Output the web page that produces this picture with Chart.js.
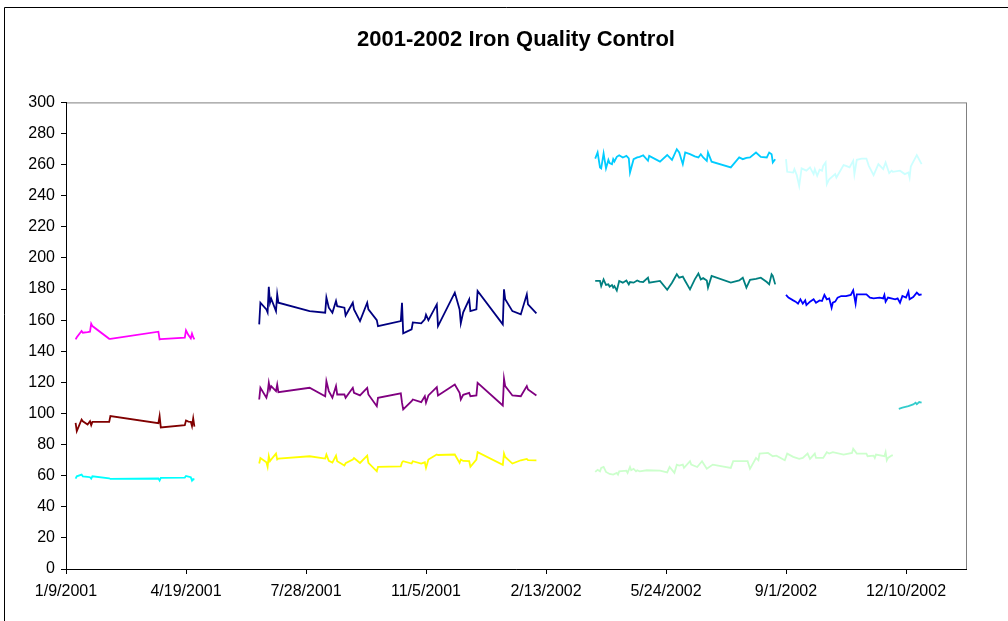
<!DOCTYPE html>
<html>
<head>
<meta charset="utf-8">
<script src="https://cdn.jsdelivr.net/npm/chart.js@4.4.0/dist/chart.umd.min.js"></script>
<style>
  html, body { margin: 0; padding: 0; background: #fff; }
  #wrap { width: 1008px; height: 621px; position: relative; }
</style>
</head>
<body>
<div id="wrap"><canvas id="chart" width="1008" height="621"></canvas></div>
<script>
// x values are Excel date serials (36900 = 1/9/2001)
const xTickLabels = ['1/9/2001', '4/19/2001', '7/28/2001', '11/5/2001', '2/13/2002', '5/24/2002', '9/1/2002', '12/10/2002'];

// early 2001
const earlyDates = [36908, 36909, 36913, 36914, 36918, 36920, 36921, 36922, 36936, 36937,
  36977, 36978, 36979, 36999, 37000, 37002, 37004, 37005, 37006, 37007];
const magentaValues = [147.6, 149.0, 153.0, 151.9, 152.3, 152.6, 157.7, 156.2, 148.0, 148.0,
  152.6, 147.6, 147.8, 148.7, 153.4, 150.4, 148.3, 151.3, 149.0, 147.6];
const darkRedValues = [94.0, 88.6, 96.1, 95.0, 92.9, 95.0, 92.5, 94.6, 94.6, 98.3,
  93.8, 98.3, 91.0, 92.5, 95.5, 94.8, 94.6, 91.8, 96.8, 91.5];
const cyanValues = [58.1, 59.6, 60.7, 59.6, 59.3, 59.0, 58.1, 59.6, 58.3, 57.9,
  58.2, 56.9, 58.6, 58.8, 59.8, 59.4, 59.0, 56.8, 57.8, 57.5];

// mid 2001 - early 2002
const midDates = [37061, 37062, 37067, 37068, 37069, 37070, 37071, 37075, 37076, 37077,
  37103, 37116, 37117, 37119, 37122, 37125, 37126, 37132, 37133, 37139,
  37140, 37145, 37151, 37152, 37159, 37160, 37179, 37180, 37181, 37188,
  37189, 37196, 37199, 37200, 37202, 37209, 37210, 37224, 37228, 37229,
  37231, 37236, 37237, 37242, 37243, 37264, 37265, 37266, 37272, 37279,
  37284, 37285, 37292];
const navyValues = [157.3, 171.2, 166.9, 165.0, 181.5, 171.2, 173.8, 165.8, 176.6, 171.2,
  165.8, 164.8, 174.5, 168.0, 164.8, 172.3, 169.0, 168.0, 163.0, 171.2,
  166.9, 159.4, 171.2, 166.9, 160.0, 156.2, 159.4, 171.2, 151.5, 154.1,
  158.5, 157.9, 160.5, 163.5, 160.0, 170.1, 156.2, 177.7, 166.9, 158.0,
  165.0, 173.4, 165.8, 166.9, 178.7, 157.3, 179.8, 173.4, 165.8, 163.7,
  176.6, 170.1, 164.4];
const purpleValues = [109.0, 116.5, 110.1, 113.3, 119.7, 115.4, 117.6, 114.4, 118.6, 113.7,
  116.5, 111.1, 120.8, 114.4, 110.1, 117.6, 112.2, 112.2, 110.1, 116.5,
  113.3, 111.6, 116.5, 112.2, 104.7, 110.1, 112.9, 106.9, 102.6, 107.9,
  109.0, 107.3, 111.1, 106.9, 111.6, 116.9, 111.6, 118.6, 113.3, 109.0,
  112.0, 113.3, 111.1, 111.6, 119.7, 105.1, 122.3, 117.6, 111.6, 111.1,
  117.6, 115.4, 111.6];
const yellowValues = [67.8, 71.4, 68.6, 65.7, 72.5, 69.3, 70.4, 74.2, 70.4, 71.0,
  72.5, 71.0, 73.6, 69.5, 68.4, 72.9, 69.3, 66.5, 68.0, 70.4,
  71.4, 68.2, 72.9, 68.2, 62.8, 65.7, 66.0, 68.5, 69.3, 67.8,
  69.3, 67.8, 68.6, 65.0, 70.4, 73.6, 73.3, 73.6, 68.2, 70.4,
  69.5, 69.3, 65.7, 70.4, 75.1, 67.0, 74.2, 72.0, 67.8, 69.9,
  70.8, 70.0, 69.9];

// spring / summer 2002
const springDates = [37341, 37343, 37345, 37346, 37348, 37350, 37352, 37353, 37355, 37356,
  37357, 37359, 37361, 37364, 37367, 37369, 37370, 37373, 37376, 37378,
  37381, 37385, 37386, 37395, 37401, 37405, 37409, 37411, 37414, 37416,
  37420, 37424, 37427, 37429, 37431, 37434, 37435, 37438, 37454, 37461,
  37464, 37467, 37470, 37475, 37479, 37484, 37486, 37488, 37489, 37491];
const skyBlueValues = [263.9, 267.8, 258.2, 257.6, 267.2, 257.6, 263.0, 261.0, 260.3, 263.5,
  262.0, 265.0, 266.0, 264.6, 265.6, 264.0, 254.9, 263.5, 264.6, 265.0,
  266.0, 262.5, 265.6, 261.9, 266.2, 263.0, 269.9, 267.8, 260.3, 267.8,
  266.7, 265.3, 264.6, 266.7, 264.6, 262.4, 267.8, 261.9, 258.2, 264.6,
  263.5, 264.3, 264.6, 267.8, 265.0, 264.6, 267.8, 266.7, 261.4, 263.5];
const tealValues = [185.2, 185.2, 185.2, 181.9, 186.2, 182.6, 183.0, 181.5, 182.6, 180.9,
  181.9, 179.0, 185.2, 184.1, 185.5, 183.0, 184.5, 184.1, 185.5, 184.8,
  184.5, 187.3, 184.1, 185.2, 179.5, 184.1, 189.5, 187.3, 188.0, 185.2,
  179.8, 186.2, 190.0, 186.2, 187.0, 185.5, 180.9, 188.4, 184.1, 185.5,
  187.3, 180.9, 185.9, 186.5, 187.3, 184.5, 183.0, 189.5, 188.5, 183.0];

const lightGreenDates = [37341, 37343, 37345, 37346, 37348, 37350, 37353, 37356, 37359, 37360,
  37361, 37367, 37368, 37370, 37371, 37373, 37375, 37376, 37378, 37384,
  37395, 37401, 37403, 37407, 37409, 37411, 37414, 37415, 37420, 37421,
  37426, 37430, 37434, 37439, 37454, 37456, 37468, 37470, 37475, 37477,
  37478, 37485, 37489, 37492, 37499, 37501, 37506, 37511, 37514, 37518,
  37520, 37524, 37525, 37531, 37534, 37536, 37539, 37548, 37555, 37556,
  37559, 37563, 37567, 37568, 37573, 37574, 37575, 37582, 37583, 37584,
  37585, 37588, 37589];
const lightGreenValues = [62.4, 63.8, 62.8, 65.0, 65.6, 62.4, 61.1, 60.7, 61.8, 60.7,
  62.8, 63.2, 61.8, 65.6, 63.5, 64.4, 62.8, 63.5, 62.8, 63.5,
  63.2, 62.1, 65.6, 61.8, 67.1, 66.5, 67.1, 65.0, 69.3, 67.1,
  65.6, 69.3, 64.4, 67.1, 65.0, 69.3, 69.3, 64.4, 71.4, 69.9,
  74.2, 74.6, 72.5, 72.9, 69.9, 74.2, 72.1, 70.8, 71.4, 74.2,
  70.8, 74.2, 71.4, 71.4, 75.1, 74.2, 75.1, 73.6, 74.6, 77.3,
  74.2, 74.2, 74.2, 72.5, 72.9, 71.4, 73.6, 72.5, 75.1, 69.9,
  71.4, 72.9, 73.2];

// autumn 2002
const lightCyanDates = [37500, 37501, 37506, 37507, 37509, 37511, 37513, 37517, 37520, 37523,
  37524, 37526, 37528, 37530, 37531, 37533, 37534, 37536, 37541, 37542,
  37548, 37550, 37553, 37556, 37557, 37559, 37563, 37567, 37569, 37573,
  37577, 37581, 37583, 37586, 37588, 37589, 37595, 37599, 37602, 37603,
  37604, 37605, 37609, 37613];
const lightCyanValues = [263.5, 255.4, 254.9, 257.1, 253.2, 246.3, 257.6, 256.1, 258.2, 253.9,
  257.1, 252.8, 256.7, 256.1, 259.2, 261.4, 247.4, 250.6, 253.9, 251.7,
  259.7, 259.2, 258.2, 262.4, 253.9, 263.1, 263.9, 263.9, 259.2, 253.2,
  260.3, 257.1, 261.4, 254.5, 256.1, 255.4, 256.1, 253.9, 254.9, 251.7,
  258.8, 260.3, 266.1, 260.3];

const blueDates = [37500, 37502, 37506, 37508, 37510, 37512, 37514, 37516, 37517, 37520,
  37523, 37525, 37528, 37530, 37532, 37534, 37536, 37538, 37539, 37541,
  37543, 37546, 37550, 37554, 37556, 37558, 37559, 37567, 37570, 37573,
  37578, 37581, 37582, 37583, 37585, 37591, 37593, 37595, 37597, 37600,
  37602, 37603, 37606, 37609, 37611, 37613];
const blueValues = [176.2, 174.5, 172.7, 171.9, 170.6, 173.4, 170.6, 172.7, 169.7, 171.9,
  173.4, 171.2, 172.7, 172.3, 176.2, 173.4, 174.0, 168.0, 171.2, 171.9,
  174.5, 175.5, 175.5, 176.2, 179.2, 170.6, 176.6, 176.6, 174.5, 174.0,
  174.5, 174.0, 176.2, 171.9, 174.5, 173.4, 174.0, 171.2, 175.5, 174.5,
  178.3, 173.4, 174.9, 177.7, 176.2, 176.6];

const turquoiseDates = [37594, 37597, 37602, 37606, 37608, 37609, 37611, 37613];
const turquoiseValues = [103.0, 103.7, 104.7, 105.8, 106.9, 106.0, 107.3, 106.9];

function pts(dates, values) {
  return dates.map((d, i) => ({ x: d, y: values[i] }));
}

function series(dates, values, color) {
  return {
    data: pts(dates, values),
    borderColor: color,
    backgroundColor: color,
    borderWidth: 1.8,
    pointRadius: 0,
    tension: 0,
    fill: false
  };
}

const FONT = '"Liberation Sans", Arial, sans-serif';

// gray frame on top/right of the plot area, and the outer chart border
const framePlugin = {
  id: 'frame',
  beforeDraw(chart) {
    const ctx = chart.ctx;
    const a = chart.chartArea;
    ctx.save();
    ctx.fillStyle = '#fff';
    ctx.fillRect(0, 0, chart.width, chart.height);
    ctx.strokeStyle = '#000';
    ctx.lineWidth = 1;
    ctx.beginPath();
    ctx.moveTo(4.5, chart.height);
    ctx.lineTo(4.5, 7.5);
    ctx.lineTo(chart.width, 7.5);
    ctx.stroke();
    ctx.strokeStyle = '#808080';
    ctx.lineWidth = 1;
    ctx.strokeRect(a.left + 0.5, a.top + 0.5, a.right - a.left, a.bottom - a.top);
    ctx.restore();
  }
};

new Chart(document.getElementById('chart').getContext('2d'), {
  type: 'line',
  data: {
    datasets: [
      series(earlyDates, magentaValues, '#FF00FF'),
      series(earlyDates, darkRedValues, '#800000'),
      series(earlyDates, cyanValues, '#00FFFF'),
      series(midDates, navyValues, '#000080'),
      series(midDates, purpleValues, '#800080'),
      series(midDates, yellowValues, '#FFFF00'),
      series(springDates, skyBlueValues, '#00CCFF'),
      series(springDates, tealValues, '#008080'),
      series(lightGreenDates, lightGreenValues, '#CCFFCC'),
      series(lightCyanDates, lightCyanValues, '#CCFFFF'),
      series(blueDates, blueValues, '#0000FF'),
      series(turquoiseDates, turquoiseValues, '#33CCCC')
    ]
  },
  options: {
    responsive: false,
    animation: false,
    layout: { padding: { left: 0, right: 42, top: 0, bottom: 0 } },
    plugins: {
      legend: { display: false },
      tooltip: { enabled: false },
      title: {
        display: true,
        fullSize: false,
        text: '2001-2002 Iron Quality Control',
        color: '#000',
        font: { family: FONT, size: 22, weight: 'bold' },
        padding: { top: 27, bottom: 49 }
      }
    },
    scales: {
      x: {
        type: 'linear',
        min: 36900,
        max: 37650,
        border: { display: true, color: '#000', width: 1 },
        grid: { display: true, drawOnChartArea: false, drawTicks: true, tickLength: 5, color: '#000' },
        ticks: {
          stepSize: 100,
          includeBounds: false,
          autoSkip: false,
          maxRotation: 0,
          padding: 8,
          color: '#000',
          font: { family: FONT, size: 16 },
          callback: function (value) {
            const i = Math.round((value - 36900) / 100);
            return xTickLabels[i] !== undefined ? xTickLabels[i] : null;
          }
        },
        afterFit: function (scale) { scale.height = 52; }
      },
      y: {
        min: 0,
        max: 300,
        border: { display: true, color: '#000', width: 1 },
        grid: { display: true, drawOnChartArea: false, drawTicks: true, tickLength: 5, color: '#000' },
        ticks: {
          stepSize: 20,
          padding: 6,
          color: '#000',
          font: { family: FONT, size: 16 }
        },
        afterFit: function (scale) { scale.width = 66; }
      }
    }
  },
  plugins: [framePlugin]
});
</script>
</body>
</html>
